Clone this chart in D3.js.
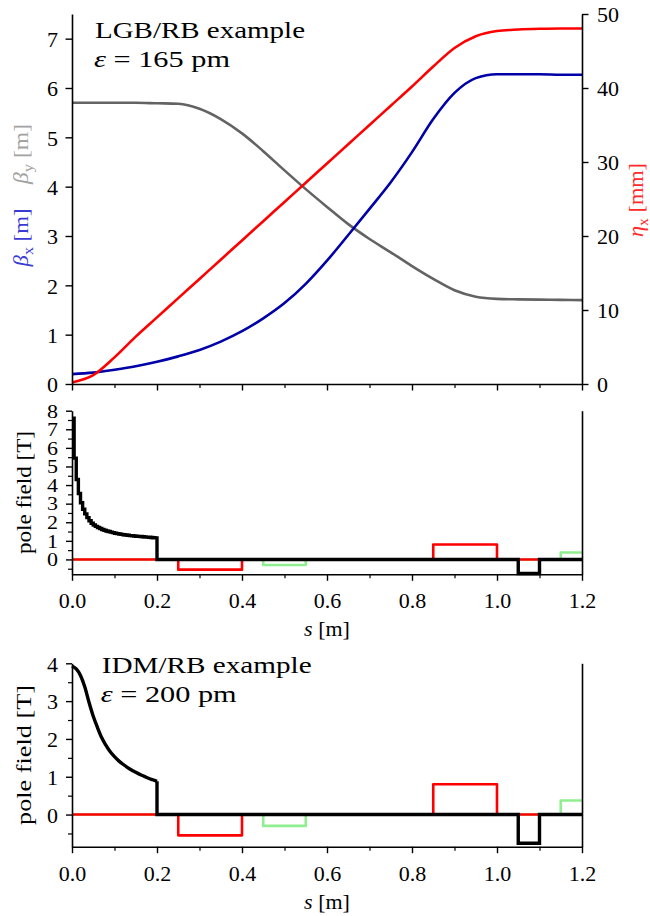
<!DOCTYPE html>
<html><head><meta charset="utf-8">
<script src="https://cdn.jsdelivr.net/npm/d3@7"></script>
<style>
body{margin:0;background:#fff}
svg{display:block}
svg text{font-family:"Liberation Serif","Times New Roman",serif !important}
</style>
</head><body>
<svg id="c" width="650" height="916"></svg>
<script>
// ---------------- DATA ----------------
const sTop   = [0,0.05,0.1,0.15,0.2,0.25,0.3,0.35,0.4,0.45,0.5,0.55,0.6,0.65,0.7,0.75,0.8,0.85,0.9,0.95,1.0,1.05,1.1,1.15,1.2];
const betaX  = [0.20,0.23,0.29,0.36,0.45,0.56,0.69,0.86,1.07,1.33,1.64,2.03,2.50,3.02,3.55,4.09,4.70,5.37,5.90,6.20,6.28,6.28,6.28,6.27,6.27];
const betaY  = [5.70,5.70,5.70,5.70,5.69,5.68,5.58,5.37,5.08,4.72,4.33,3.95,3.59,3.24,2.94,2.67,2.39,2.13,1.90,1.77,1.725,1.715,1.71,1.705,1.70];
const etaX   = [0.2,1.2,3.6,6.4,9.0,11.6,14.2,16.8,19.4,22.0,24.6,27.2,29.8,32.4,35.0,37.6,40.2,42.9,45.4,47.0,47.7,47.9,48.0,48.05,48.05];

// LGB pole field: piecewise-constant slices of equal width from s = 0 to 0.2 m
const lgbSliceWidth = 0.005;
const lgbField = [7.6,5.45,4.3,3.55,3.05,2.7,2.45,2.25,2.08,1.95,1.85,1.78,1.72,1.66,1.61,1.57,1.53,1.50,1.47,1.44,
                  1.41,1.39,1.37,1.35,1.33,1.31,1.30,1.28,1.27,1.26,1.25,1.24,1.23,1.22,1.21,1.20,1.19,1.18,1.17,1.16];

// IDM pole field (smooth), s = 0 … 0.2 m
const idmS     = [0,0.01,0.02,0.03,0.04,0.05,0.06,0.07,0.08,0.09,0.10,0.11,0.12,0.13,0.14,0.15,0.16,0.17,0.18,0.19,0.20];
const idmField = [3.93,3.85,3.68,3.38,2.97,2.60,2.30,2.03,1.83,1.66,1.53,1.42,1.33,1.25,1.18,1.12,1.06,1.01,0.96,0.92,0.88];

// remaining dipole (reverse bend) after the gradient bend
const dipEdges  = [0.2,1.05,1.1,1.2];
const dipField  = [0,-0.76,0];
// quadrupoles (red) and sextupoles (green)
const quadEdges = [0,0.25,0.4,0.85,1.0,1.2];
const quadField = [0,-0.55,0,0.8,0];
const sextEdges = [0,0.45,0.55,1.15,1.2];
const sextField = [0,-0.3,0,0.37];

const xTicks = [0,0.2,0.4,0.6,0.8,1.0,1.2];
const xMinor = [0.1,0.3,0.5,0.7,0.9,1.1];

// ---------------- HELPERS ----------------
const FONT = '"Liberation Serif","Times New Roman",serif';
const svg = d3.select("#c");
const X0 = 72, X1 = 582;
const x = d3.scaleLinear().domain([0,1.2]).range([X0,X1]);

const colBlue = "#0000a8", colRed = "#ff0000", colGray = "#636363", colGreen = "#90ee90";
const FS = 22;

function stepPts(edges, vals){
  const p = [];
  vals.forEach((v,i)=>{ p.push([edges[i],v]); p.push([edges[i+1],v]); });
  return p;
}
function styleAxis(g){
  g.attr("font-family",null).attr("font-size",null);
  g.select(".domain").attr("stroke","#000").attr("stroke-width",1.6);
  g.selectAll(".tick line").attr("stroke","#000").attr("stroke-width",1.4);
  g.selectAll(".tick text").style("font-size",FS+"px").style("font-family",FONT).attr("fill","#000");
}
function bottomAxis(gy, labels){
  const g = svg.append("g").attr("transform",`translate(0,${gy})`)
    .call(d3.axisBottom(x).tickValues(xTicks).tickSize(6.5).tickSizeOuter(0).tickFormat(labels?d3.format(".1f"):""));
  styleAxis(g);
  g.selectAll(".tick text").attr("y",34).attr("dy",0);
  const gm = svg.append("g").attr("transform",`translate(0,${gy})`)
    .call(d3.axisBottom(x).tickValues(xMinor).tickSize(4).tickSizeOuter(0).tickFormat(""));
  gm.select(".domain").remove();
  gm.selectAll(".tick line").attr("stroke","#000").attr("stroke-width",1.2);
}

// ---------------- TOP PANEL ----------------
const yL = d3.scaleLinear().domain([0,7.5]).range([384,14]);
const yR = d3.scaleLinear().domain([0,50]).range([384,14]);

const lineL = d3.line().x((d,i)=>x(sTop[i])).y(d=>yL(d)).curve(d3.curveMonotoneX);
const lineR = d3.line().x((d,i)=>x(sTop[i])).y(d=>yR(d)).curve(d3.curveMonotoneX);

svg.append("path").attr("d",lineL(betaY)).attr("fill","none").attr("stroke",colGray).attr("stroke-width",2.6);
svg.append("path").attr("d",lineL(betaX)).attr("fill","none").attr("stroke",colBlue).attr("stroke-width",2.6);
svg.append("path").attr("d",lineR(etaX)).attr("fill","none").attr("stroke",colRed).attr("stroke-width",2.6);

const gL = svg.append("g").attr("transform",`translate(${X0},0)`)
  .call(d3.axisLeft(yL).tickValues([0,1,2,3,4,5,6,7]).tickSize(6.5).tickSizeOuter(0).tickFormat(d3.format("d")));
styleAxis(gL);
gL.selectAll(".tick text").attr("x",-14).attr("dy","0.35em");

const gR = svg.append("g").attr("transform",`translate(${X1},0)`)
  .call(d3.axisRight(yR).tickValues([0,10,20,30,40,50]).tickSize(6.5).tickSizeOuter(0).tickFormat(d3.format("d")));
styleAxis(gR);
gR.selectAll(".tick text").attr("x",15).attr("dy","0.35em");

bottomAxis(384,false);

// titles
function title(tx,ty,l1,eps){
  svg.append("text").attr("x",tx).attr("y",ty).style("font-size","24px").style("font-family",FONT)
    .attr("textLength",210).attr("lengthAdjust","spacingAndGlyphs").text(l1);
  const t = svg.append("text").attr("x",tx-1).attr("y",ty+28.6).style("font-size","24px").style("font-family",FONT)
    .attr("textLength",136).attr("lengthAdjust","spacingAndGlyphs");
  t.append("tspan").attr("font-style","italic").text("ε");
  t.append("tspan").text(" = " + eps + " pm");
}
title(95,38.3,"LGB/RB example","165");

// axis labels (rotated)
function rotLabel(cx,cy,parts,color,fs,len){
  const t = svg.append("text")
    .attr("transform",`translate(${cx},${cy}) rotate(-90)`)
    .attr("text-anchor","middle").style("font-size",fs+"px").style("font-family",FONT).style("fill",color);
  if(len) t.attr("textLength",len).attr("lengthAdjust","spacingAndGlyphs");
  parts.forEach(p=>{
    const ts = t.append("tspan").text(p.t);
    if(p.it) ts.attr("font-style","italic");
    if(p.sub){ ts.style("font-size",(fs*0.7)+"px").attr("dy",fs*0.22); }
    if(p.up){ ts.attr("dy",-fs*0.22); }
  });
  return t;
}
rotLabel(28,154,[{t:"β",it:1},{t:"y",sub:1},{t:" [m]",up:1}],"#a3a3a3",21,60);
rotLabel(28,237.5,[{t:"β",it:1},{t:"x",sub:1},{t:" [m]",up:1}],"#3b3bd4",21,58);
rotLabel(643,200,[{t:"η",it:1},{t:"x",sub:1},{t:" [mm]",up:1}],"#ff2a2a",21,74);

// ---------------- FIELD PANELS ----------------
function fieldPanel(top,bottom,dom,majors,minors,squish,blackSmooth,labLen){
  const y = d3.scaleLinear().domain(dom).range([bottom,top]);
  const ln = d3.line().x(d=>x(d[0])).y(d=>y(d[1]));
  // green, red, black
  svg.append("path").attr("d",ln(stepPts(sextEdges,sextField))).attr("fill","none")
    .attr("stroke",colGreen).attr("stroke-width",2.6).attr("stroke-linejoin","round");
  svg.append("path").attr("d",ln(stepPts(quadEdges,quadField))).attr("fill","none")
    .attr("stroke",colRed).attr("stroke-width",2.6).attr("stroke-linejoin","round");
  let pts;
  if(blackSmooth){
    const sm = d3.line().x((d,i)=>x(idmS[i])).y(d=>y(d)).curve(d3.curveMonotoneX);
    svg.append("path").attr("d",sm(idmField)).attr("fill","none").attr("stroke","#000").attr("stroke-width",3.4);
    pts = [[idmS[idmS.length-1], idmField[idmField.length-1]]].concat(stepPts(dipEdges,dipField));
  } else {
    pts = [];
    lgbField.forEach((v,i)=>{ pts.push([i*lgbSliceWidth,v]); pts.push([(i+1)*lgbSliceWidth,v]); });
    pts = pts.concat(stepPts(dipEdges,dipField));
  }
  svg.append("path").attr("d",ln(pts)).attr("fill","none").attr("stroke","#000")
    .attr("stroke-width",3.4).attr("stroke-linejoin","miter");

  const gl = svg.append("g").attr("transform",`translate(${X0},0)`)
    .call(d3.axisLeft(y).tickValues(majors).tickSize(6).tickSizeOuter(0).tickFormat(d3.format("d")));
  styleAxis(gl);
  gl.selectAll(".tick text").attr("x",-14).attr("dy","0.35em").attr("transform",`scale(1,${squish})`);
  const gm = svg.append("g").attr("transform",`translate(${X0},0)`)
    .call(d3.axisLeft(y).tickValues(minors).tickSize(4).tickSizeOuter(0).tickFormat(""));
  gm.select(".domain").remove();
  gm.selectAll(".tick line").attr("stroke","#000").attr("stroke-width",1.2);
  const gr = svg.append("g").attr("transform",`translate(${X1},0)`)
    .call(d3.axisRight(y).tickValues([]).tickSizeOuter(0));
  styleAxis(gr);
  bottomAxis(bottom,true);
  const cy = (top+bottom)/2;
  rotLabel(31,cy,[{t:"pole field [T]"}],"#000",22,labLen);
  const xl = svg.append("text").attr("x",(X0+X1)/2).attr("y",bottom+62).attr("text-anchor","middle")
    .style("font-size",FS+"px").style("font-family",FONT);
  xl.append("tspan").attr("font-style","italic").text("s");
  xl.append("tspan").text(" [m]");
}

fieldPanel(410.7,574.3,[-0.8,8],[0,1,2,3,4,5,6,7,8],[-0.5,0.5,1.5,2.5,3.5,4.5,5.5,6.5,7.5],0.82,false,123);
fieldPanel(663.3,846.7,[-0.85,4],[0,1,2,3,4],[-0.5,0.5,1.5,2.5,3.5],1,true,140);
title(101.7,673.3,"IDM/RB example","200");
</script>
</body></html>
